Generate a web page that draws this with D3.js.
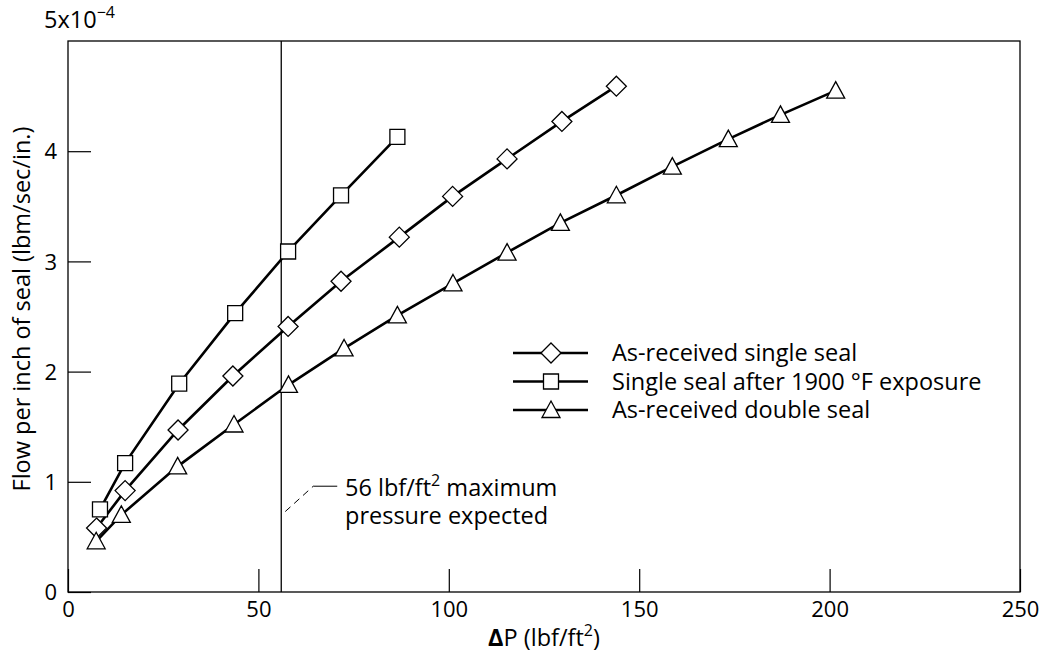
<!DOCTYPE html>
<html>
<head>
<meta charset="utf-8">
<script src="https://cdn.jsdelivr.net/npm/d3@7"></script>
<style>
  body { margin: 0; background: #fff; }
  text { font-family: "Open Sans", "Liberation Sans", Arial, sans-serif; fill: #000; }
</style>
</head>
<body>
<script>
// values (flow in units of 1e-4 lbm/sec/in.)
const singleDp   = [7.5, 15, 28.9, 43.3, 57.8, 71.7, 87, 101, 115.3, 129.7, 144];
const singleFlow = [0.58, 0.92, 1.47, 1.96, 2.41, 2.82, 3.22, 3.59, 3.93, 4.27, 4.59];
const exposedDp   = [8.4, 15, 29.2, 43.9, 57.8, 71.7, 86.5];
const exposedFlow = [0.75, 1.17, 1.89, 2.53, 3.09, 3.60, 4.13];
const doubleDp   = [7.4, 14, 28.8, 43.6, 57.9, 72.5, 86.5, 101.1, 115.3, 129.3, 144, 158.7, 173.4, 187.1, 201.6];
const doubleFlow = [0.46, 0.70, 1.14, 1.52, 1.88, 2.21, 2.51, 2.80, 3.08, 3.35, 3.60, 3.86, 4.11, 4.33, 4.55];
const xTicks = [0, 50, 100, 150, 200, 250];
const yTicks = [0, 1, 2, 3, 4];
const seriesNames = ["As-received single seal", "Single seal after 1900 \u00B0F exposure", "As-received double seal"];
const maxPressure = 56;

const width = 1045, height = 660;
const margin = {top: 41, right: 25, bottom: 68, left: 68};
const fs = "23.5px", tickFs = "22px", supFs = "16px";

const svg = d3.select("body").append("svg")
    .attr("width", width).attr("height", height);

const x = d3.scaleLinear().domain([0, 250]).range([margin.left, width - margin.right]);
const y = d3.scaleLinear().domain([0, 5]).range([height - margin.bottom, margin.top]);

// frame
svg.append("rect")
    .attr("x", x(0)).attr("y", y(5))
    .attr("width", x(250) - x(0)).attr("height", y(0) - y(5))
    .attr("fill", "none").attr("stroke", "#000").attr("stroke-width", 1.3);

// inward ticks
const xAxis = svg.append("g").attr("transform", "translate(0," + y(0) + ")")
    .call(d3.axisBottom(x).tickValues(xTicks).tickSize(-23));
const yAxis = svg.append("g").attr("transform", "translate(" + x(0) + ",0)")
    .call(d3.axisLeft(y).tickValues(yTicks).tickSize(-23).tickPadding(11).tickFormat(d3.format("d")));
[xAxis, yAxis].forEach(function(a){
  a.select(".domain").remove();
  a.selectAll("line").attr("stroke", "#000").attr("stroke-width", 1.2);
  a.selectAll("text").style("font-family", "Open Sans, sans-serif").style("font-size", tickFs).attr("fill", "#000");
});
xAxis.selectAll("text").attr("dy", "0").attr("y", 25);
yAxis.selectAll("text").attr("dy", "0.35em");

// 5x10^-4 at top
const expLabel = svg.append("text").attr("x", 44).attr("y", 28).style("font-size", fs);
expLabel.append("tspan").text("5x10");
expLabel.append("tspan").attr("dy", -10).style("font-size", supFs).text("\u22124");

// axis titles
svg.append("text")
    .attr("transform", "translate(30,309) rotate(-90)")
    .attr("text-anchor", "middle").style("font-size", fs)
    .text("Flow per inch of seal (lbm/sec/in.)");
const xl = svg.append("text").attr("x", 544).attr("y", 646)
    .attr("text-anchor", "middle").style("font-size", fs);
xl.append("tspan").style("font-weight", "bold").text("\u0394");
xl.append("tspan").text("P (lbf/ft");
xl.append("tspan").attr("dy", -10).style("font-size", supFs).text("2");
xl.append("tspan").attr("dy", 10).text(")");

// 56 lbf/ft2 vertical line
svg.append("line")
    .attr("x1", x(maxPressure)).attr("x2", x(maxPressure))
    .attr("y1", y(0)).attr("y2", y(5))
    .attr("stroke", "#000").attr("stroke-width", 1.3);

// annotation
svg.append("path")
    .attr("d", "M" + (x(maxPressure) + 4) + "," + y(0.73) + " L" + (x(maxPressure) + 32) + "," + y(0.96))
    .attr("stroke", "#000").attr("stroke-width", 1).attr("stroke-dasharray", "7,5").attr("fill", "none");
svg.append("line")
    .attr("x1", x(maxPressure) + 32).attr("x2", x(maxPressure) + 56)
    .attr("y1", y(0.96)).attr("y2", y(0.96))
    .attr("stroke", "#000").attr("stroke-width", 1);
const ann = svg.append("text").attr("x", 345).attr("y", 496).style("font-size", fs);
ann.append("tspan").text("56 lbf/ft");
ann.append("tspan").attr("dy", -10).style("font-size", supFs).text("2");
ann.append("tspan").attr("dy", 10).text(" maximum");
svg.append("text").attr("x", 345).attr("y", 524).style("font-size", fs).text("pressure expected");

// series
const series = [
  {name: seriesNames[0], dp: singleDp, flow: singleFlow, shape: "diamond"},
  {name: seriesNames[1], dp: exposedDp, flow: exposedFlow, shape: "square"},
  {name: seriesNames[2], dp: doubleDp, flow: doubleFlow, shape: "triangle"}
];

function symbolPath(s) {
  if (s.shape === "diamond") return "M0,-10L10,0L0,10L-10,0Z";
  if (s.shape === "square") return "M-7.5,-7.5H7.5V7.5H-7.5Z";
  return "M0,-9L9,7.5L-9,7.5Z";
}

const line = d3.line().x(function(d){ return x(d[0]); }).y(function(d){ return y(d[1]); });

series.forEach(function(s) {
  const pts = s.dp.map(function(v, i){ return [v, s.flow[i]]; });
  svg.append("path").datum(pts).attr("d", line)
      .attr("fill", "none").attr("stroke", "#000").attr("stroke-width", 2.6);
  svg.append("g").selectAll("path").data(pts).enter().append("path")
      .attr("transform", function(d){ return "translate(" + x(d[0]) + "," + y(d[1]) + ")"; })
      .attr("d", symbolPath(s))
      .attr("fill", "#fff").attr("stroke", "#000").attr("stroke-width", 1.3);
});

// legend
const legend = svg.append("g").attr("transform", "translate(513,353)");
const rows = legend.selectAll("g").data(series).enter().append("g")
    .attr("transform", function(d, i){ return "translate(0," + (i * 28.5) + ")"; });
rows.append("line").attr("x1", 0).attr("x2", 75).attr("y1", 0).attr("y2", 0)
    .attr("stroke", "#000").attr("stroke-width", 2.6);
rows.append("path").attr("transform", "translate(38,0)")
    .attr("d", function(d){ return symbolPath(d); })
    .attr("fill", "#fff").attr("stroke", "#000").attr("stroke-width", 1.3);
rows.append("text").attr("x", 99).attr("y", 0).attr("dy", "0.35em")
    .style("font-size", fs).text(function(d){ return d.name; });
</script>
</body>
</html>
